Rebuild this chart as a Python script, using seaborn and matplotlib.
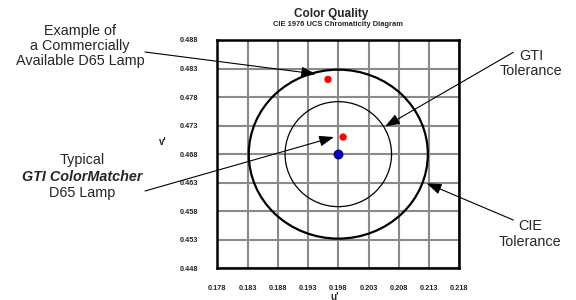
import numpy as np
import pandas as pd
import matplotlib
matplotlib.use("Agg")
import matplotlib.pyplot as plt
from matplotlib.patches import Ellipse
import seaborn as sns

sns.set_style("white")
plt.rcParams["font.family"] = ["Liberation Sans", "DejaVu Sans"]

# measured lamp chromaticities (u', v')
lamp_names = ["Commercial D65", "GTI ColorMatcher"]
lamp_u = [0.1963, 0.1988]
lamp_v = [0.4811, 0.4710]

# D65 target point
target_u = [0.198]
target_v = [0.468]

# tolerance ellipses: (u radius, v radius)
cie_radius = (0.0148, 0.0148)
gti_radius = (0.0088, 0.0092)

x_ticks = [0.178, 0.183, 0.188, 0.193, 0.198, 0.203, 0.208, 0.213, 0.218]
y_ticks = [0.448, 0.453, 0.458, 0.463, 0.468, 0.473, 0.478, 0.483, 0.488]

fig = plt.figure(figsize=(5.76, 3.0), dpi=100)
W, H = 576, 300
ax = fig.add_axes([217.3 / W, 1 - 268.3 / H, 242 / W, 228.3 / H])

ax.set_xlim(x_ticks[0], x_ticks[-1])
ax.set_ylim(y_ticks[0], y_ticks[-1])
ax.set_xticks(x_ticks)
ax.set_yticks(y_ticks)
ax.set_xticklabels([f"{t:.3f}" for t in x_ticks], fontsize=5.3, fontweight="bold")
ax.set_yticklabels([f"{t:.3f}" for t in y_ticks], fontsize=5.3, fontweight="bold")
ax.grid(True, color="#8a8a8a", lw=1.5)
ax.tick_params(axis="both", length=4, width=1.4, color="#8a8a8a", direction="out")
ax.tick_params(axis="y", pad=9.5)
ax.tick_params(axis="x", pad=8)
for s in ax.spines.values():
    s.set_color("black")
    s.set_linewidth(1.8)

ax.add_patch(Ellipse((target_u[0], target_v[0]), 2 * cie_radius[0], 2 * cie_radius[1],
                     fill=False, ec="black", lw=1.6, zorder=3))
ax.add_patch(Ellipse((target_u[0], target_v[0]), 2 * gti_radius[0], 2 * gti_radius[1],
                     fill=False, ec="black", lw=0.9, zorder=3))

lamps = pd.DataFrame({"lamp": lamp_names, "u": lamp_u, "v": lamp_v})
sns.scatterplot(data=lamps, x="u", y="v", ax=ax, color="#ff0000", s=28,
                edgecolor="none", zorder=4, legend=False)
sns.scatterplot(x=target_u, y=target_v, ax=ax, color="#0000cc", s=40,
                edgecolor="#000066", linewidth=0.8, zorder=4, legend=False)
ax.set_xlabel("")
ax.set_ylabel("")

# titles
fig.text(331 / W, 1 - 13.5 / H, "Color Quality", ha="center", va="center",
         fontsize=8.5, fontweight="bold")
fig.text(337.7 / W, 1 - 24.3 / H, "CIE 1976 UCS Chromaticity Diagram", ha="center",
         va="center", fontsize=5.4, fontweight="bold")
fig.text(163 / W, 1 - 141.7 / H, "v'", ha="center", va="center", fontsize=7, fontweight="bold")
fig.text(335 / W, 1 - 296.5 / H, "u'", ha="center", va="center", fontsize=7, fontweight="bold")

# callouts
fs = 10.4
fig.text(80 / W, 1 - 46 / H, "Example of\na Commercially\nAvailable D65 Lamp",
         ha="center", va="center", fontsize=fs, linespacing=1.12)
fig.text(531 / W, 1 - 63.3 / H, "GTI\nTolerance", ha="center", va="center",
         fontsize=fs, linespacing=1.12)
fig.text(530 / W, 1 - 234 / H, "CIE\nTolerance", ha="center", va="center",
         fontsize=fs, linespacing=1.12)
fig.text(82 / W, 1 - 160 / H, "Typical", ha="center", va="center", fontsize=fs)
fig.text(82 / W, 1 - 176.7 / H, "GTI ColorMatcher", ha="center", va="center",
         fontsize=fs, fontweight="bold", fontstyle="italic")
fig.text(82 / W, 1 - 193.3 / H, "D65 Lamp", ha="center", va="center", fontsize=fs)

arrows = [
    ((0.19431, 0.48204), (145, 248)),
    ((0.20572, 0.47284), (513.3, 247.7)),
    ((0.19729, 0.47100), (145, 109)),
    ((0.21261, 0.46289), (513.3, 80)),
]
for tip, tail in arrows:
    ax.annotate("", xy=tip, xycoords="data", xytext=tail, textcoords="figure pixels",
                arrowprops=dict(arrowstyle="-|>,head_length=0.6,head_width=0.22",
                                color="black", lw=0.8,
                                mutation_scale=15, shrinkA=0, shrinkB=0),
                annotation_clip=False, zorder=5)

fig.savefig("out.png", dpi=100)
